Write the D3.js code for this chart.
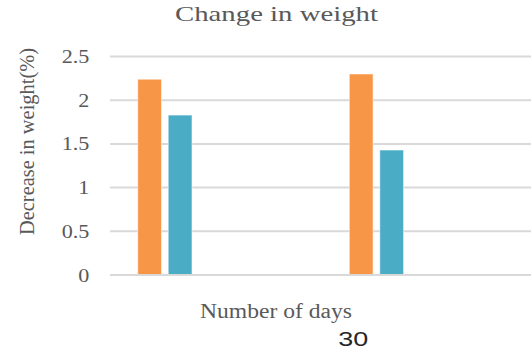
<!DOCTYPE html>
<html>
<head>
<meta charset="utf-8">
<script src="https://cdn.jsdelivr.net/npm/d3@7"></script>
<style>
  html, body { margin: 0; padding: 0; background: #fff; }
  svg { display: block; }
</style>
</head>
<body>
<svg id="chart" width="531" height="353"></svg>
<script>
// Chart data
const categories = ["Sample 1", "Sample 2"];
const seriesKeys = ["first", "second"];
const seriesFirst = [2.24, 2.30];
const seriesSecond = [1.83, 1.43];
const yTicks = [0, 0.5, 1, 1.5, 2, 2.5];
const titleText = "Change in weight";
const yLabelText = "Decrease in weight(%)";
const xLabelText = "Number of days";
const noteText = "30";

const colors = { first: "#F79646", second: "#4BACC6" };
const textGrey = "#595959";
const serif = "'Liberation Serif', 'Times New Roman', serif";
const sans = "'Liberation Sans', Arial, sans-serif";

const svg = d3.select("#chart");

const plotLeft = 110, plotRight = 531;
const y = d3.scaleLinear().domain([0, 2.5]).range([275, 56.5]);

const x0 = d3.scaleBand()
  .domain(categories)
  .range([110, 431.3])
  .paddingInner(0.7434)
  .paddingOuter(0.131);

const x1 = d3.scaleBand()
  .domain(seriesKeys)
  .range([0, x0.bandwidth()])
  .paddingInner(0.22)
  .paddingOuter(0);

const rows = categories.map((c, i) => ({
  cat: c,
  values: [
    { key: "first", value: seriesFirst[i] },
    { key: "second", value: seriesSecond[i] }
  ]
}));

// Horizontal gridlines
svg.append("g").selectAll("line")
  .data(yTicks.filter(t => t > 0))
  .join("line")
  .attr("x1", plotLeft).attr("x2", plotRight)
  .attr("y1", d => y(d)).attr("y2", d => y(d))
  .attr("stroke", "#d9d9d9").attr("stroke-width", 2);

// Bars
svg.append("g").selectAll("g")
  .data(rows)
  .join("g")
  .attr("transform", d => `translate(${x0(d.cat)},0)`)
  .selectAll("rect")
  .data(d => d.values)
  .join("rect")
  .attr("x", d => x1(d.key))
  .attr("width", x1.bandwidth())
  .attr("y", d => y(d.value))
  .attr("height", d => y(0) - y(d.value))
  .attr("fill", d => colors[d.key])
  .attr("stroke", "#ffffff")
  .attr("stroke-opacity", 0.55)
  .attr("stroke-width", 1);

// Category axis line
svg.append("line")
  .attr("x1", plotLeft).attr("x2", plotRight)
  .attr("y1", y(0)).attr("y2", y(0))
  .attr("stroke", "#d9d9d9").attr("stroke-width", 2);

// Value axis tick labels
svg.append("g").selectAll("text")
  .data(yTicks)
  .join("text")
  .attr("transform", d => `translate(89.3,${y(d) + 6.5}) scale(1.23,1)`)
  .attr("text-anchor", "end")
  .attr("font-family", serif)
  .attr("font-size", 18)
  .attr("fill", textGrey)
  .text(d => d3.format("")(d));

// Title
svg.append("text")
  .attr("x", 175).attr("y", 21)
  .attr("textLength", 203).attr("lengthAdjust", "spacingAndGlyphs")
  .attr("font-family", serif).attr("font-size", 22)
  .attr("fill", textGrey)
  .text(titleText);

// Value axis title
svg.append("text")
  .attr("transform", "translate(33.5,141.5) rotate(-90)")
  .attr("text-anchor", "middle")
  .attr("textLength", 187).attr("lengthAdjust", "spacingAndGlyphs")
  .attr("font-family", serif).attr("font-size", 20.5)
  .attr("fill", textGrey)
  .text(yLabelText);

// Category axis title
svg.append("text")
  .attr("x", 200).attr("y", 318.3)
  .attr("textLength", 152).attr("lengthAdjust", "spacingAndGlyphs")
  .attr("font-family", serif).attr("font-size", 20)
  .attr("fill", textGrey)
  .text(xLabelText);

// Day count note
svg.append("text")
  .attr("x", 338.3).attr("y", 345.7)
  .attr("textLength", 30).attr("lengthAdjust", "spacingAndGlyphs")
  .attr("font-family", sans).attr("font-size", 20.5)
  .attr("fill", "#262626")
  .text(noteText);
</script>
</body>
</html>
